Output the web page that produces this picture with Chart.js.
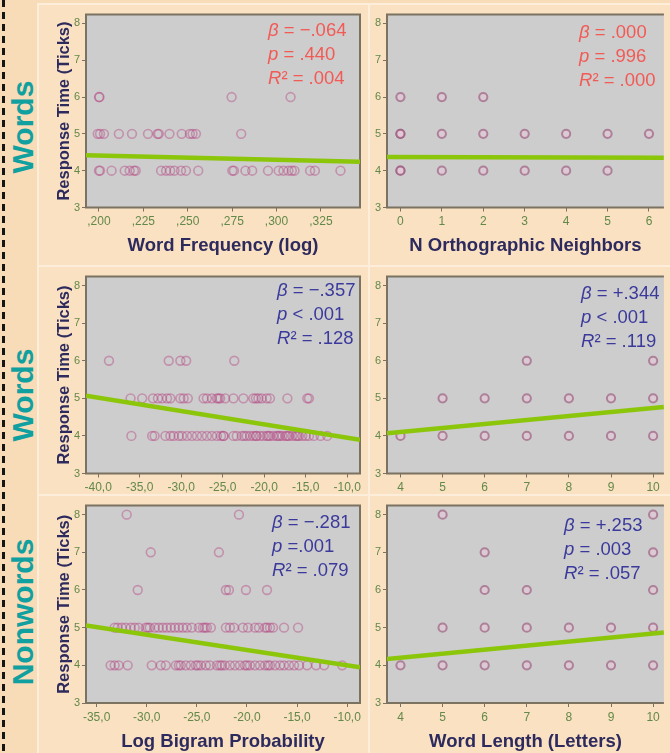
<!DOCTYPE html>
<html><head><meta charset="utf-8">
<script src="https://cdn.jsdelivr.net/npm/chart.js@4/dist/chart.umd.min.js"></script>
<style>
html,body{margin:0;padding:0}
body{width:670px;height:753px;overflow:hidden;position:relative;background:#f8dbb7;font-family:"Liberation Sans",Arial,sans-serif}
#dash{position:absolute;left:2px;top:0;width:3px;height:753px;background:repeating-linear-gradient(to bottom,#151515 0 7px,transparent 7px 12px)}
#inner{position:absolute;left:37px;top:3px;right:0;bottom:0;background:#fae1c1;border-left:2px solid #fdeedc;border-top:2px solid #fdeedc}
.vsep{position:absolute;left:368px;top:3px;width:2px;height:750px;background:#fdeedc}
.hsep{position:absolute;left:37px;width:633px;height:2px;background:#fdeedc}
canvas{position:absolute}
.row{position:absolute;color:#10a0a0;font-weight:bold;font-size:30px;transform:translate(-50%,-50%) rotate(-90deg);white-space:nowrap;line-height:1}
.stat{position:absolute;font-size:18.5px;line-height:24px;white-space:nowrap}
.red{color:#f25a55}.blue{color:#3b3a9c}
</style></head>
<body>
<div id="dash"></div>
<div id="inner"></div>
<div class="vsep"></div>
<div class="hsep" style="top:265px"></div>
<div class="hsep" style="top:494px"></div>

<div class="row" style="left:23px;top:127px">Words</div>
<div class="row" style="left:23px;top:395px">Words</div>
<div class="row" style="left:23px;top:612px">Nonwords</div>

<canvas id="c1" width="326" height="251" style="left:40px;top:6px"></canvas>
<canvas id="c2" width="298" height="251" style="left:372px;top:6px"></canvas>
<canvas id="c3" width="326" height="228" style="left:40px;top:268px"></canvas>
<canvas id="c4" width="298" height="228" style="left:372px;top:268px"></canvas>
<canvas id="c5" width="326" height="256" style="left:40px;top:497px"></canvas>
<canvas id="c6" width="298" height="256" style="left:372px;top:497px"></canvas>

<div class="stat red" style="left:268px;top:18px"><i>β</i> = −.064<br><i>p</i> = .440<br><i>R</i>² = .004</div>
<div class="stat red" style="left:579px;top:20px"><i>β</i> = .000<br><i>p</i> = .996<br><i>R</i>² = .000</div>
<div class="stat blue" style="left:277px;top:278px"><i>β</i> = −.357<br><i>p</i> &lt; .001<br><i>R</i>² = .128</div>
<div class="stat blue" style="left:581px;top:281px"><i>β</i> = +.344<br><i>p</i> &lt; .001<br><i>R</i>² = .119</div>
<div class="stat blue" style="left:272px;top:510px"><i>β</i> = −.281<br><i>p</i> =.001<br><i>R</i>² = .079</div>
<div class="stat blue" style="left:564px;top:513px"><i>β</i> = +.253<br><i>p</i> = .003<br><i>R</i>² = .057</div>

<script>
// ---- tick values / labels ----
const rtTicks = [3, 4, 5, 6, 7, 8];
const freqTicks = [0.200, 0.225, 0.250, 0.275, 0.300, 0.325];
const freqTickLabels = [',200', ',225', ',250', ',275', ',300', ',325'];
const neighTicks = [0, 1, 2, 3, 4, 5, 6];
const bigramWordTicks = [-40, -35, -30, -25, -20, -15, -10];
const bigramWordLabels = ['-40,0', '-35,0', '-30,0', '-25,0', '-20,0', '-15,0', '-10,0'];
const bigramNonTicks = [-35, -30, -25, -20, -15, -10];
const bigramNonLabels = ['-35,0', '-30,0', '-25,0', '-20,0', '-15,0', '-10,0'];
const lengthTicks = [4, 5, 6, 7, 8, 9, 10];

// ---- Panel 1: Word Frequency (log), words ----
const freqAt6 = [0.200, 0.2003, 0.2747, 0.3079];
const freqAt5 = [0.1993, 0.2006, 0.2028, 0.2112, 0.2186, 0.2276, 0.2330, 0.2337, 0.2397, 0.2466, 0.2512, 0.2527, 0.2546, 0.2801];
const freqAt4 = [0.200, 0.2006, 0.2071, 0.2145, 0.2173, 0.2197, 0.2207, 0.2350, 0.2378, 0.2401, 0.2425, 0.2462, 0.2490, 0.2559,
                 0.2751, 0.2760, 0.2825, 0.2863, 0.2952, 0.3012, 0.3039, 0.3067, 0.3086, 0.3101, 0.3189, 0.3216, 0.3360];
const freqFitX = [0.1927, 0.347];
const freqFitY = [4.42, 4.24];

// ---- Panel 2: N Orthographic Neighbors, words ----
const neighAt6 = [0, 1, 2];
const neighAt5 = [0, 0, 1, 2, 3, 4, 5, 6];
const neighAt4 = [0, 0, 1, 2, 3, 4, 5];
const neighFitX = [-0.324, 6.36];
const neighFitY = [4.37, 4.35];

// ---- Panel 3: Log Bigram Probability, words ----
const wBigramAt6 = [-38.7, -31.5, -30.1, -29.4, -23.6];
const wBigramAt5 = [-36.1, -34.7, -33.4, -32.8, -32.3, -31.7, -31.3, -30.1, -29.7, -29.2, -27.3, -26.9, -26.3, -25.7, -25.3,
                    -24.7, -23.7, -22.5, -21.3, -20.7, -20.3, -19.7, -19.3, -17.2, -14.8, -14.6, -25.5, -21.0];
const wBigramAt4 = [-36.0, -33.5, -33.2, -31.9, -31.3, -30.9, -30.3, -29.9, -29.3, -28.7, -28.1, -27.5, -26.9, -26.3, -25.7,
                    -25.2, -24.9, -23.7, -23.3, -22.7, -22.1, -21.7, -21.3, -20.9, -20.5, -20.1, -19.7, -19.3, -18.9, -18.5,
                    -18.1, -17.8, -17.4, -17.0, -16.6, -16.2, -15.8, -15.4, -15.0, -14.6, -14.0, -13.2, -12.4,
                    -24.9, -22.4, -21.0, -19.5, -18.3, -17.2, -16.0];
const wBigramFitX = [-41.47, -8.45];
const wBigramFitY = [5.07, 3.90];

// ---- Panel 4: Word Length (Letters), words ----
const wLengthAt6 = [7, 10];
const wLengthAt5 = [5, 6, 7, 8, 9, 10];
const wLengthAt4 = [4, 5, 6, 7, 8, 9, 10];
const wLengthFitX = [3.68, 10.256];
const wLengthFitY = [4.07, 4.77];

// ---- Panel 5: Log Bigram Probability, nonwords ----
const nBigramAt8 = [-32.0, -20.8];
const nBigramAt7 = [-29.6, -22.8];
const nBigramAt6 = [-30.9, -22.1, -21.8, -20.1, -18.0];
const nBigramAt5 = [-33.2, -32.9, -32.5, -32.1, -31.6, -31.2, -30.8, -30.1, -29.7, -29.2, -28.8, -28.4, -28.0, -27.6, -27.2,
                    -26.8, -26.4, -26.0, -25.5, -24.8, -24.4, -24.0, -23.6, -22.1, -21.7, -21.3, -20.4, -19.9, -19.2, -18.8,
                    -18.2, -17.7, -17.4, -16.3, -14.9, -29.9, -24.2, -18.0];
const nBigramAt4 = [-33.6, -33.2, -32.8, -31.9, -29.5, -28.6, -28.1, -27.1, -26.6, -26.1, -25.6, -25.1, -24.6, -24.1, -23.7,
                    -23.0, -22.7, -22.2, -21.7, -21.2, -20.7, -20.2, -19.7, -19.2, -18.7, -18.2, -17.7, -17.2, -16.7, -16.3,
                    -15.8, -15.3, -14.8, -14.0, -13.1, -12.3, -10.5, -26.8, -24.9, -22.5, -20.0, -17.9];
const nBigramFitX = [-36.06, -8.72];
const nBigramFitY = [5.06, 3.95];

// ---- Panel 6: Word Length (Letters), nonwords ----
const nLengthAt8 = [5, 10];
const nLengthAt7 = [6, 10];
const nLengthAt6 = [6, 7, 10];
const nLengthAt5 = [5, 6, 7, 8, 9, 10];
const nLengthAt4 = [4, 5, 6, 7, 8, 9, 10];
const nLengthFitX = [3.68, 10.256];
const nLengthFitY = [4.17, 4.87];

// ---- helpers ----
function pts(groups) {
  const out = [];
  groups.forEach(([rt, xs]) => xs.forEach(x => out.push({x: x, y: rt})));
  return out;
}
function fit(xs, ys) { return xs.map((x, i) => ({x: x, y: ys[i]})); }

Chart.defaults.font.family = '"Liberation Sans", Arial, sans-serif';
Chart.defaults.animation = false;

const frame = {
  id: 'frame',
  beforeDatasetsDraw(chart, args, opts) {
    const {ctx, chartArea: a} = chart;
    ctx.save();
    ctx.fillStyle = '#cdcdcd';
    ctx.fillRect(a.left, a.top, a.right - a.left, a.bottom - a.top);
    ctx.strokeStyle = '#7b7262';
    ctx.lineWidth = 2;
    ctx.beginPath();
    if (opts.open) {
      ctx.moveTo(a.right, a.top); ctx.lineTo(a.left, a.top);
      ctx.lineTo(a.left, a.bottom); ctx.lineTo(a.right, a.bottom);
    } else {
      ctx.rect(a.left, a.top, a.right - a.left, a.bottom - a.top);
    }
    ctx.stroke();
    ctx.restore();
  }
};

const tickColor = '#62894a';
const titleColor = '#2d2a5e';
const frameColor = '#7b7262';

function makePanel(id, cfg) {
  const left = cfg.left;
  const ds = [
    {data: cfg.fit, showLine: true, borderColor: '#8cc60a', borderWidth: 4.5, pointRadius: 0, fill: false},
    {data: cfg.points, showLine: false,
     pointRadius: left ? 4.4 : 4.1,
     borderWidth: left ? 1.6 : 2,
     borderColor: left ? 'rgba(178,62,126,0.42)' : 'rgba(150,82,120,0.62)',
     backgroundColor: left ? 'rgba(0,0,0,0)' : 'rgba(238,200,220,0.45)'}
  ];
  new Chart(document.getElementById(id), {
    type: 'scatter',
    data: {datasets: ds},
    plugins: [frame],
    options: {
      responsive: false,
      events: [],
      layout: {padding: {top: 6, right: left ? 3 : 0, left: 0, bottom: 0}},
      plugins: {legend: {display: false}, tooltip: {enabled: false}, frame: {open: !left}},
      scales: {
        x: {
          type: 'linear', min: cfg.xmin, max: cfg.xmax,
          afterBuildTicks: s => { s.ticks = cfg.xTicks.map(v => ({value: v})); },
          afterFit: s => { s.height = cfg.xh; },
          ticks: {color: tickColor, font: {size: 12}, padding: 3, autoSkip: false, maxRotation: 0,
                  callback: (v, i) => cfg.xLabels ? cfg.xLabels[i] : String(v)},
          grid: {drawOnChartArea: false, tickLength: 4, color: frameColor, lineWidth: 1},
          border: {display: false},
          title: {display: !!cfg.xTitle, text: cfg.xTitle || '', color: titleColor,
                  font: {size: 18.5, weight: 'bold'}, padding: {top: 0, bottom: 0}}
        },
        y: {
          type: 'linear', min: 3, max: 8.24,
          afterBuildTicks: s => { s.ticks = rtTicks.map(v => ({value: v})); },
          afterFit: s => { s.width = left ? 46 : 15; },
          ticks: {color: tickColor, font: {size: 11}, padding: 2, autoSkip: false},
          grid: {drawOnChartArea: false, tickLength: 4, color: frameColor, lineWidth: 1},
          border: {display: false},
          title: {display: left, text: 'Response Time (Ticks)', color: titleColor,
                  font: {size: 16.5, weight: 'bold'}, padding: {top: 15, bottom: 0}}
        }
      }
    }
  });
}

makePanel('c1', {left: true, xmin: 0.1927, xmax: 0.347, xTicks: freqTicks, xLabels: freqTickLabels, xh: 49.5,
  xTitle: 'Word Frequency (log)', fit: fit(freqFitX, freqFitY),
  points: pts([[6, freqAt6], [5, freqAt5], [4, freqAt4]])});
makePanel('c2', {left: false, xmin: -0.324, xmax: 6.36, xTicks: neighTicks, xh: 49.5,
  xTitle: 'N Orthographic Neighbors', fit: fit(neighFitX, neighFitY),
  points: pts([[6, neighAt6], [5, neighAt5], [4, neighAt4]])});
makePanel('c3', {left: true, xmin: -41.47, xmax: -8.45, xTicks: bigramWordTicks, xLabels: bigramWordLabels, xh: 22.5,
  fit: fit(wBigramFitX, wBigramFitY),
  points: pts([[6, wBigramAt6], [5, wBigramAt5], [4, wBigramAt4]])});
makePanel('c4', {left: false, xmin: 3.68, xmax: 10.256, xTicks: lengthTicks, xh: 22.5,
  fit: fit(wLengthFitX, wLengthFitY),
  points: pts([[6, wLengthAt6], [5, wLengthAt5], [4, wLengthAt4]])});
makePanel('c5', {left: true, xmin: -36.06, xmax: -8.72, xTicks: bigramNonTicks, xLabels: bigramNonLabels, xh: 50,
  xTitle: 'Log Bigram Probability', fit: fit(nBigramFitX, nBigramFitY),
  points: pts([[8, nBigramAt8], [7, nBigramAt7], [6, nBigramAt6], [5, nBigramAt5], [4, nBigramAt4]])});
makePanel('c6', {left: false, xmin: 3.68, xmax: 10.256, xTicks: lengthTicks, xh: 50,
  xTitle: 'Word Length (Letters)', fit: fit(nLengthFitX, nLengthFitY),
  points: pts([[8, nLengthAt8], [7, nLengthAt7], [6, nLengthAt6], [5, nLengthAt5], [4, nLengthAt4]])});
</script>
</body></html>
